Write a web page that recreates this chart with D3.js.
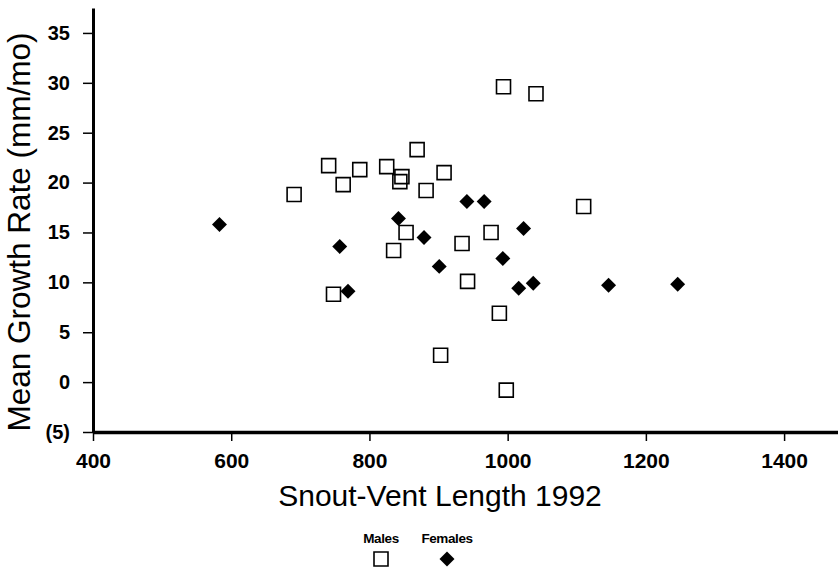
<!DOCTYPE html>
<html>
<head>
<meta charset="utf-8">
<script src="https://cdn.jsdelivr.net/npm/d3@7"></script>
<style>
  html, body { margin: 0; padding: 0; background: #fff; }
  svg { display: block; font-family: "Liberation Sans", Arial, sans-serif; }
</style>
</head>
<body>
<svg id="chart" width="838" height="569"></svg>
<script>
// Snout-Vent Length 1992 (x) and Mean Growth Rate mm/mo (y)
const malesX = [691, 741, 762, 786, 825, 847, 844, 869, 882, 908, 853, 835, 748, 934, 976, 942, 988, 994, 1041, 1110, 903, 998];
const malesY = [18.8, 21.7, 19.8, 21.3, 21.6, 20.6, 20.1, 23.3, 19.2, 21.0, 15.0, 13.2, 8.8, 13.9, 15.0, 10.1, 6.9, 29.6, 28.9, 17.6, 2.7, -0.8];
const femalesX = [583, 757, 769, 842, 879, 941, 966, 1023, 901, 993, 1016, 1037, 1146, 1246];
const femalesY = [15.8, 13.6, 9.1, 16.4, 14.5, 18.1, 18.1, 15.4, 11.6, 12.4, 9.4, 9.9, 9.7, 9.8];
const xTicks = [400, 600, 800, 1000, 1200, 1400];
const yTicks = [-5, 0, 5, 10, 15, 20, 25, 30, 35];
const seriesNames = ["Males", "Females"];
const xTitle = "Snout-Vent Length 1992";
const yTitle = "Mean Growth Rate (mm/mo)";

const svg = d3.select("#chart");
const x = d3.scaleLinear().domain([400, 1478]).range([93, 838]);
const y = d3.scaleLinear().domain([-5, 37.5]).range([432, 8]);

const fmt = d => d < 0 ? `(${-d})` : `${d}`;

// Y axis
const gy = svg.append("g")
  .attr("transform", "translate(93,0)")
  .call(d3.axisLeft(y).tickValues(yTicks).tickFormat(fmt).tickSize(10).tickSizeOuter(0).tickPadding(13));
gy.select(".domain").attr("stroke", "#000").attr("stroke-width", 3);
gy.selectAll(".tick line").attr("stroke", "#000").attr("stroke-width", 1.5);
gy.selectAll(".tick text").attr("font-size", 20).attr("font-weight", "bold").attr("fill", "#000")
  .attr("font-family", "'Liberation Sans', Arial, sans-serif");

// X axis
const gx = svg.append("g")
  .attr("transform", "translate(0,432)")
  .call(d3.axisBottom(x).tickValues(xTicks).tickFormat(fmt).tickSize(9).tickSizeOuter(0).tickPadding(12));
gx.select(".domain").attr("stroke", "#000").attr("stroke-width", 3.5);
gx.selectAll(".tick line").attr("stroke", "#000").attr("stroke-width", 1.5);
gx.selectAll(".tick text").attr("font-size", 21).attr("font-weight", "bold").attr("fill", "#000")
  .attr("font-family", "'Liberation Sans', Arial, sans-serif");

// Titles
svg.append("text")
  .attr("x", 440).attr("y", 506)
  .attr("text-anchor", "middle")
  .attr("font-size", 30)
  .attr("fill", "#000")
  .text(xTitle);

svg.append("text")
  .attr("transform", "translate(30,232) rotate(-90)")
  .attr("text-anchor", "middle")
  .attr("font-size", 31.5)
  .attr("fill", "#000")
  .text(yTitle);

// Markers
const squarePath = d3.symbol(d3.symbolSquare, 196)();
const diamondPath = d3.symbol(d3.symbolSquare, 112)();

const males = malesX.map((v, i) => ({ x: v, y: malesY[i] }));
const females = femalesX.map((v, i) => ({ x: v, y: femalesY[i] }));

svg.append("g").selectAll("path")
  .data(males).join("path")
  .attr("d", squarePath)
  .attr("transform", d => `translate(${x(d.x)},${y(d.y)})`)
  .attr("fill", "none")
  .attr("stroke", "#000")
  .attr("stroke-width", 1.6);

svg.append("g").selectAll("path")
  .data(females).join("path")
  .attr("d", diamondPath)
  .attr("transform", d => `translate(${x(d.x)},${y(d.y)}) rotate(45)`)
  .attr("fill", "#000");

// Legend
const legend = svg.append("g");
const legX = [381, 447];
legend.selectAll("text")
  .data(seriesNames).join("text")
  .attr("x", (d, i) => legX[i])
  .attr("y", 543)
  .attr("text-anchor", "middle")
  .attr("font-size", 13.5)
  .attr("font-weight", "bold")
  .attr("letter-spacing", -0.4)
  .attr("fill", "#000")
  .text(d => d);

legend.append("path")
  .attr("d", squarePath)
  .attr("transform", `translate(${legX[0]},559)`)
  .attr("fill", "none")
  .attr("stroke", "#000")
  .attr("stroke-width", 1.6);

legend.append("path")
  .attr("d", diamondPath)
  .attr("transform", `translate(${legX[1]},559) rotate(45)`)
  .attr("fill", "#000");
</script>
</body>
</html>
